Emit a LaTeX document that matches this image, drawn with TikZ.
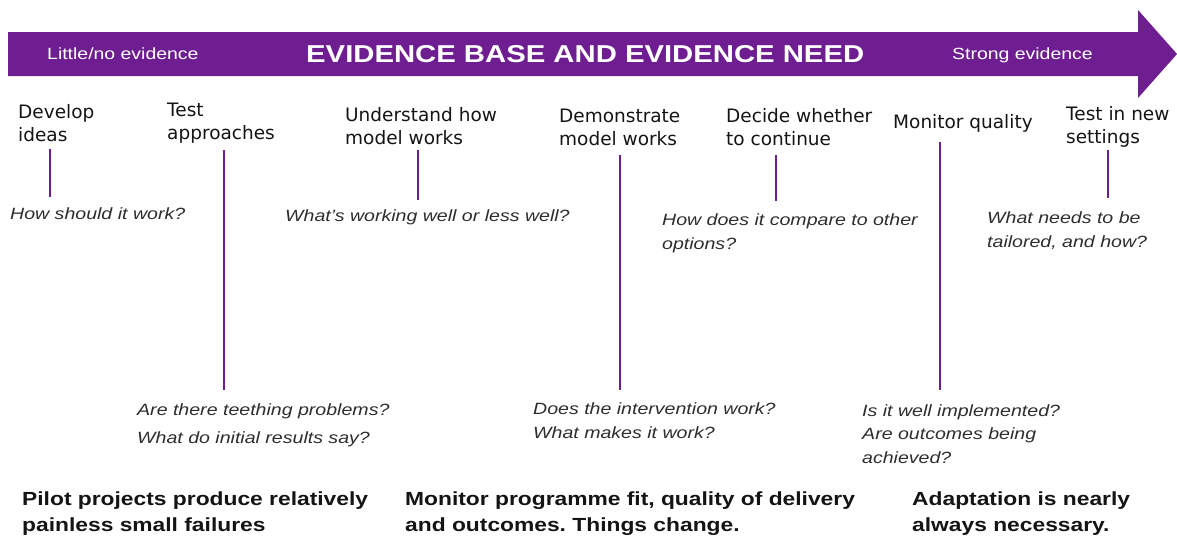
\documentclass[tikz,border=0pt]{standalone}
\usepackage{fontspec}
\newfontfamily\widefont[FakeStretch=1.2]{Liberation Sans}
\newfontfamily\stagefont{DejaVu Sans}
\definecolor{evpurple}{RGB}{110,30,145}
\definecolor{inkdark}{RGB}{20,20,20}
\definecolor{inkgrey}{RGB}{45,45,45}
\frenchspacing
\begin{document}
% multi-line nodes sit on the baseline of their last line
\begin{tikzpicture}[x=1pt,y=-1pt,
  stage/.style={anchor=base west, inner sep=0pt, align=left, text=inkdark,
    font=\stagefont\fontsize{18.5}{23}\selectfont},
  question/.style={anchor=base west, inner sep=0pt, align=left, text=inkgrey,
    font=\widefont\itshape\fontsize{16.3}{24}\selectfont},
  summary/.style={anchor=base west, inner sep=0pt, align=left, text=inkdark,
    font=\widefont\bfseries\fontsize{19}{26}\selectfont},
  band/.style={anchor=base west, inner sep=0pt, text=white,
    font=\widefont\fontsize{16.2}{20}\selectfont},
  stem/.style={draw=evpurple, line width=2.6pt}
]
\useasboundingbox (0,0) rectangle (1177,538);

% evidence arrow
\fill[evpurple] (8,32) -- (1138,32) -- (1138,10) -- (1177,54) -- (1138,98)
  -- (1138,76) -- (8,76) -- cycle;
\node[band] (weak) at (47,59) {Little/no evidence};
\node[band, font=\widefont\bfseries\fontsize{24.4}{28}\selectfont] (title) at (306,62)
  {EVIDENCE BASE AND EVIDENCE NEED};
\node[band] (strong) at (952,59) {Strong evidence};

% stages
\node[stage] (s1) at (18,141) {Develop\\ideas};
\node[stage] (s2) at (167,139) {Test\\approaches};
\node[stage] (s3) at (345,144) {Understand how\\model works};
\node[stage] (s4) at (559,145) {Demonstrate\\model works};
\node[stage] (s5) at (726,145) {Decide whether\\to continue};
\node[stage] (s6) at (893,128) {Monitor quality};
\node[stage] (s7) at (1066,143) {Test in new\\settings};

% questions
\node[question] (q1) at (10,219) {How should it work?};
\node[question] (q2) at (137,443) {Are there teething problems?\\[4pt]What do initial results say?};
\node[question] (q3) at (285,221) {What’s working well or less well?};
\node[question] (q4) at (533,438) {Does the intervention work?\\What makes it work?};
\node[question] (q5) at (662,249) {How does it compare to other\\options?};
\node[question, font=\widefont\itshape\fontsize{16.3}{23.5}\selectfont] (q6) at (862,463)
  {Is it well implemented?\\Are outcomes being\\achieved?};
\node[question] (q7) at (987,247) {What needs to be\\tailored, and how?};

% stems
\coordinate (t1) at (50,149);   \coordinate (b1) at (50,197);
\coordinate (t2) at (224,150);  \coordinate (b2) at (224,390);
\coordinate (t3) at (418,150);  \coordinate (b3) at (418,200);
\coordinate (t4) at (620,155);  \coordinate (b4) at (620,390);
\coordinate (t5) at (776,155);  \coordinate (b5) at (776,201);
\coordinate (t6) at (940,142);  \coordinate (b6) at (940,390);
\coordinate (t7) at (1108,150); \coordinate (b7) at (1108,198);
\foreach \i in {1,...,7} \draw[stem] (t\i) -- (b\i);

% summaries
\node[summary] (m1) at (22,531) {Pilot projects produce relatively\\painless small failures};
\node[summary] (m2) at (405,531) {Monitor programme fit, quality of delivery\\and outcomes. Things change.};
\node[summary] (m3) at (912,531) {Adaptation is nearly\\always necessary.};
\end{tikzpicture}
\end{document}
